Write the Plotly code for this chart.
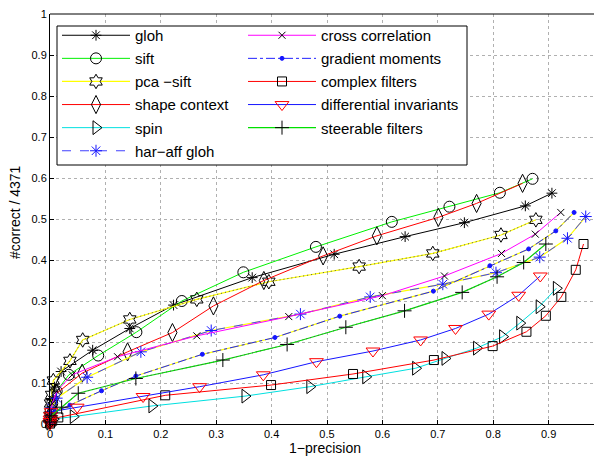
import plotly.graph_objects as go

# ---------------- data ----------------
gloh_x = [0, 0.001, 0.003, 0.008, 0.020, 0.077, 0.144, 0.223, 0.365, 0.513, 0.641, 0.748, 0.858, 0.906]
gloh_y = [0.01, 0.03, 0.06, 0.09, 0.128, 0.180, 0.233, 0.290, 0.357, 0.414, 0.457, 0.491, 0.532, 0.563]

sift_x = [0, 0.001, 0.004, 0.012, 0.034, 0.087, 0.156, 0.238, 0.349, 0.480, 0.617, 0.721, 0.812, 0.871]
sift_y = [0.01, 0.03, 0.05, 0.08, 0.12, 0.167, 0.224, 0.300, 0.370, 0.432, 0.493, 0.530, 0.564, 0.598]

pca_x = [0, 0.001, 0.003, 0.006, 0.036, 0.059, 0.144, 0.265, 0.395, 0.558, 0.691, 0.814, 0.877]
pca_y = [0.02, 0.05, 0.071, 0.106, 0.154, 0.205, 0.255, 0.304, 0.347, 0.384, 0.416, 0.461, 0.498]

shape_x = [0, 0.001, 0.004, 0.012, 0.058, 0.140, 0.221, 0.295, 0.386, 0.493, 0.590, 0.701, 0.770, 0.853]
shape_y = [0.01, 0.025, 0.045, 0.075, 0.124, 0.176, 0.223, 0.288, 0.350, 0.410, 0.459, 0.504, 0.538, 0.587]

spin_x = [0, 0.002, 0.006, 0.042, 0.184, 0.352, 0.469, 0.570, 0.660, 0.713, 0.770, 0.817, 0.848, 0.883, 0.914]
spin_y = [0.002, 0.006, 0.012, 0.018, 0.044, 0.068, 0.091, 0.115, 0.136, 0.160, 0.185, 0.213, 0.246, 0.286, 0.331]

haraff_x = [0, 0.001, 0.003, 0.012, 0.067, 0.164, 0.291, 0.452, 0.578, 0.709, 0.805, 0.884, 0.934, 0.967]
haraff_y = [0.01, 0.02, 0.039, 0.063, 0.114, 0.176, 0.228, 0.268, 0.310, 0.341, 0.369, 0.407, 0.453, 0.506]

cc_x = [0, 0.004, 0.012, 0.040, 0.122, 0.265, 0.431, 0.600, 0.712, 0.815, 0.876, 0.922]
cc_y = [0.02, 0.05, 0.08, 0.12, 0.164, 0.215, 0.262, 0.313, 0.361, 0.416, 0.463, 0.516]

gm_x = [0, 0.002, 0.010, 0.036, 0.093, 0.155, 0.275, 0.406, 0.523, 0.692, 0.794, 0.864, 0.913, 0.946]
gm_y = [0.005, 0.015, 0.03, 0.046, 0.081, 0.117, 0.170, 0.211, 0.263, 0.324, 0.386, 0.427, 0.471, 0.516]

cf_x = [0, 0.001, 0.004, 0.015, 0.208, 0.399, 0.547, 0.693, 0.799, 0.860, 0.895, 0.923, 0.949, 0.963]
cf_y = [0.001, 0.004, 0.008, 0.016, 0.070, 0.095, 0.122, 0.156, 0.190, 0.225, 0.264, 0.310, 0.376, 0.439]

di_x = [0, 0, 0, 0.001, 0.002, 0.049, 0.168, 0.270, 0.385, 0.481, 0.583, 0.669, 0.732, 0.792, 0.846, 0.885]
di_y = [0.0, 0.006, 0.012, 0.02, 0.03, 0.041, 0.067, 0.091, 0.120, 0.152, 0.178, 0.205, 0.233, 0.268, 0.314, 0.361]

sf_x = [0, 0.002, 0.021, 0.051, 0.155, 0.312, 0.428, 0.534, 0.640, 0.744, 0.807, 0.855, 0.895]
sf_y = [0.005, 0.02, 0.041, 0.075, 0.111, 0.156, 0.194, 0.236, 0.276, 0.321, 0.359, 0.394, 0.439]

x_ticks = [0, 0.1, 0.2, 0.3, 0.4, 0.5, 0.6, 0.7, 0.8, 0.9]
x_labels = ["0", "0.1", "0.2", "0.3", "0.4", "0.5", "0.6", "0.7", "0.8", "0.9"]
y_ticks = [0, 0.1, 0.2, 0.3, 0.4, 0.5, 0.6, 0.7, 0.8, 0.9, 1]
y_labels = ["0", "0.1", "0.2", "0.3", "0.4", "0.5", "0.6", "0.7", "0.8", "0.9", "1"]

x_title = "1\u2212precision"
y_title = "#correct / 4371"

FONT = "Liberation Sans, Arial, sans-serif"

fig = go.Figure()


def add_series(name, x, y, color, symbol, msize, mcolor, legend, base=None, dash="solid",
               overlay=None):
    # optional colored base line below (not in legend)
    if base is not None:
        fig.add_trace(go.Scatter(x=x, y=y, mode="lines", line=dict(color=base, width=1.2),
                                 showlegend=False, hoverinfo="skip", cliponaxis=False))
    fig.add_trace(go.Scatter(
        x=x, y=y, name=name, mode="lines+markers",
        line=dict(color=color, width=1.2 if overlay else 1, dash=dash),
        marker=dict(symbol=symbol, size=msize, color=mcolor,
                    line=dict(color=mcolor, width=1)),
        legend=legend, legendgroup=name, cliponaxis=False))
    # optional dotted dark overlay on top (not in legend)
    if overlay is not None:
        fig.add_trace(go.Scatter(x=x, y=y, mode="lines",
                                 line=dict(color=overlay, width=1, dash="1px,3px"),
                                 showlegend=False, hoverinfo="skip", cliponaxis=False))


add_series("gloh", gloh_x, gloh_y, "#000000", "asterisk-open", 9, "#000000", "legend")
add_series("sift", sift_x, sift_y, "#00f000", "circle-open", 11, "#000000", "legend")
add_series("pca \u2212sift", pca_x, pca_y, "#ffff00", "hexagram-open", 11, "#000000", "legend",
           overlay="#555555")
add_series("shape context", shape_x, shape_y, "#ff0000", "diamond-tall-open", 13, "#000000", "legend")
add_series("spin", spin_x, spin_y, "#00e0e0", "triangle-right-open", 12, "#000000", "legend")
add_series("har\u2212aff gloh", haraff_x, haraff_y, "#4040ff", "asterisk-open", 10, "#1515ff", "legend",
           base="#ffff00", dash="dash")
add_series("cross correlation", cc_x, cc_y, "#ff00ff", "x-thin-open", 7, "#000000", "legend2")
add_series("gradient moments", gm_x, gm_y, "#2020ff", "circle", 4, "#1515ff", "legend2",
           base="#ffff00", dash="dashdot")
add_series("complex filters", cf_x, cf_y, "#ff0000", "square-open", 9, "#000000", "legend2")
add_series("differential invariants", di_x, di_y, "#1515ff", "triangle-down-open", 12, "#ff0000", "legend2")
add_series("steerable filters", sf_x, sf_y, "#00e000", "cross-thin-open", 10, "#000000", "legend2",
           overlay="#555555")

# The page body has an 8px margin, so figure coordinates are window coordinates minus 8.
OFF = 8
W, H = 602, 456
AX_L, AX_T, AX_B = 50, 14, 424          # axes box in window pixels
L = AX_L - OFF
T = AX_T - OFF
B = H - (AX_B - OFF)
R = 0
pw = W - L - R
ph = H - T - B
UNIT_X = 554.0                           # pixels per x unit


def px_x(p):
    return (p - OFF - L) / pw


def px_y(p):
    return (H - B - (p - OFF)) / ph


fig.add_shape(type="rect", xref="paper", yref="paper",
              x0=px_x(57), x1=px_x(467), y0=px_y(165), y1=px_y(26),
              line=dict(color="black", width=1), fillcolor="white", layer="above")
fig.add_shape(type="line", xref="paper", yref="paper", x0=0, x1=1, y0=1, y1=1,
              line=dict(color="black", width=1))

fig.add_annotation(text=x_title, xref="paper", yref="paper", x=px_x(325), y=px_y(448),
                   xanchor="center", yanchor="middle", showarrow=False,
                   font=dict(family=FONT, size=14, color="black"))
fig.add_annotation(text=y_title, xref="paper", yref="paper", x=px_x(15), y=px_y(212),
                   xanchor="center", yanchor="middle", showarrow=False, textangle=-90,
                   font=dict(family=FONT, size=14, color="black"))

leg_common = dict(bgcolor="rgba(0,0,0,0)", borderwidth=0, font=dict(family=FONT, size=15, color="black"),
                  traceorder="grouped", tracegroupgap=0.6, xanchor="left", yanchor="top",
                  itemwidth=68)

fig.update_layout(
    width=W, height=H,
    margin=dict(l=L, r=R, t=T, b=B, pad=0, autoexpand=False),
    paper_bgcolor="white", plot_bgcolor="white",
    font=dict(family=FONT, size=11, color="black"),
    legend=dict(x=px_x(57), y=px_y(19), **leg_common),
    legend2=dict(x=px_x(243), y=px_y(19), **leg_common),
    xaxis=dict(range=[0, pw / UNIT_X], tickvals=x_ticks, ticktext=x_labels, automargin=False,
               ticks="inside", ticklen=4, tickcolor="black", showline=True, linecolor="black",
               linewidth=1, showgrid=True, gridcolor="#b0b0b0", griddash="dot", gridwidth=1,
               zeroline=False, tickfont=dict(size=11), ticklabeloverflow="allow"),
    yaxis=dict(range=[0, 1], tickvals=y_ticks, ticktext=y_labels, automargin=False,
               ticks="inside", ticklen=4, tickcolor="black", showline=True, linecolor="black",
               linewidth=1, showgrid=True, gridcolor="#b0b0b0", griddash="dot", gridwidth=1,
               zeroline=False, tickfont=dict(size=11), ticklabeloverflow="allow"),
)

fig.write_html("out.html")
